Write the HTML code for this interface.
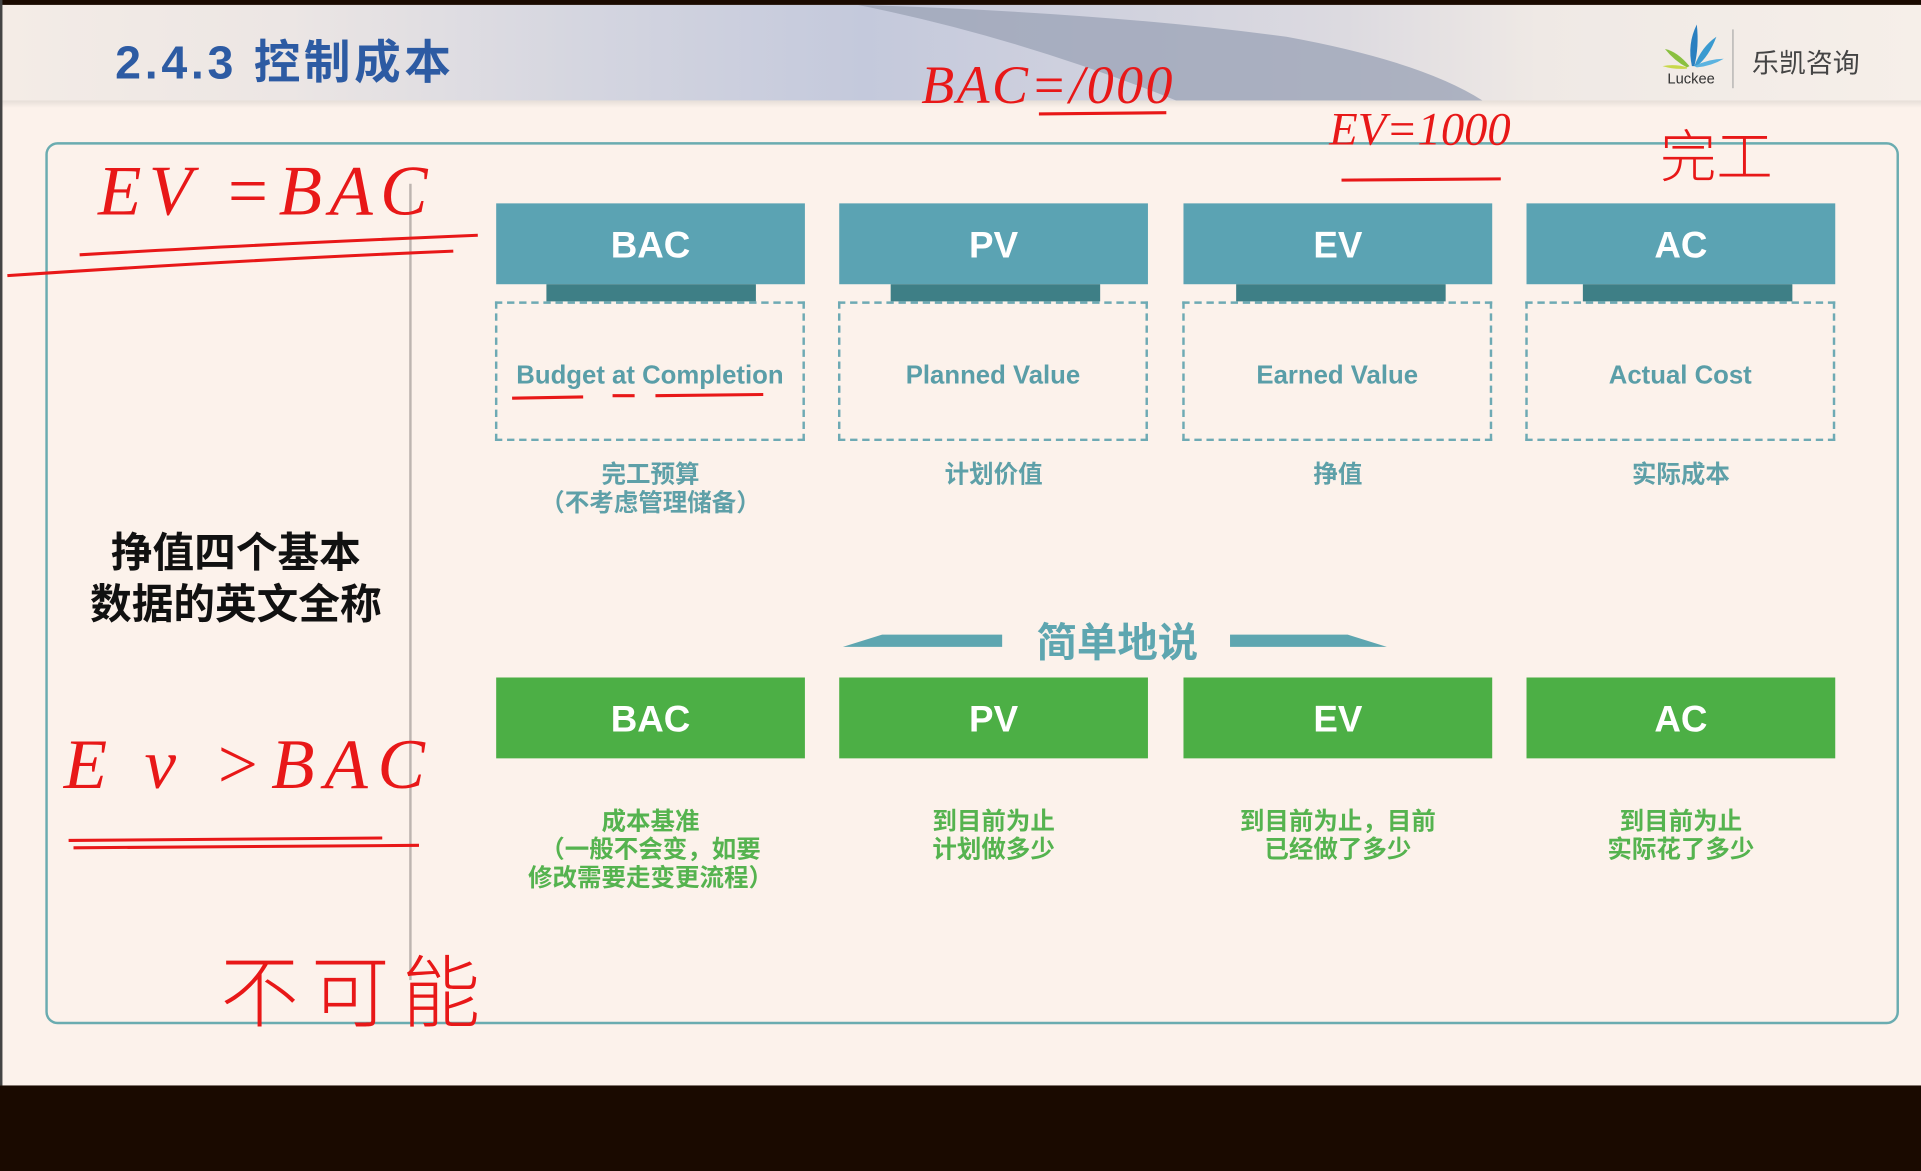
<!DOCTYPE html>
<html><head><meta charset="utf-8"><style>
html,body{margin:0;padding:0;width:1921px;height:1171px;overflow:hidden;background:#1a0a00}
#w{position:absolute;left:0;top:0;width:1568px;height:956px;transform:scale(1.22513);transform-origin:0 0;background:#fcf2eb;font-family:"Liberation Sans","Noto Sans CJK SC",sans-serif;overflow:hidden}
.a{position:absolute}
.tb{position:absolute;height:66px;width:252px;background:#5ba3b3;color:#fff;font-weight:bold;font-size:30px;text-align:center;line-height:70px}
.bar{position:absolute;height:14px;width:171px;background:#3e7f86}
.db{position:absolute;width:249px;height:110px;border:2px dashed #6eaab4;color:#5a9ea8;font-weight:bold;font-size:21px;text-align:center;line-height:118px}
.lb{position:absolute;width:252px;text-align:center;color:#5ea0a8;font-weight:bold;font-size:20px;line-height:23px}
.gb{position:absolute;height:66px;width:252px;background:#4caf45;color:#fff;font-weight:bold;font-size:30px;text-align:center;line-height:70px}
.gl{position:absolute;width:252px;text-align:center;color:#55b34f;font-weight:bold;font-size:20px;line-height:23px}
.r{position:absolute;color:#e81818;font-family:"Liberation Serif",serif;font-style:italic;white-space:nowrap}
</style></head><body><div id="w">
<div class="a" style="left:0;top:4px;width:1568px;height:78px;background:linear-gradient(90deg,#f4ece6 0%,#ece6e4 15%,#d5d6e0 30%,#c4c9dc 45%,#dcdae0 70%,#efe9e5 80%,#f6efe9 100%)"></div>
<svg class="a" style="left:0;top:0" width="1568" height="90"><path d="M700 4 Q900 10 1050 30 Q1160 50 1210 82 L960 82 Q830 30 700 4Z" fill="#9ea5b8" opacity="0.8"/></svg>
<div class="a" style="left:0;top:0;width:1568px;height:4px;background:#1a0a00"></div>
<div class="a" style="left:0;top:82px;width:1568px;height:6px;background:linear-gradient(#e6ded8,#fcf2eb)"></div>
<div class="a" style="left:0;top:0;width:2px;height:886px;background:#444"></div>
<div class="a" style="left:94px;top:20px;color:#2d5ba3;font-weight:bold;font-size:38px;letter-spacing:3px">2.4.3 控制成本</div>
<svg class="a" style="left:1355px;top:18px" width="52" height="40"><path d="M26 36 Q22 18 30 2 Q32 20 28 36Z" fill="#2a7fc0"/><path d="M28 36 Q34 20 46 12 Q40 28 30 36Z" fill="#3a9ad0"/><path d="M28 36 Q40 30 52 30 Q42 36 30 37Z" fill="#5bb3e0"/><path d="M24 36 Q14 24 4 22 Q12 32 22 37Z" fill="#8ac040"/><path d="M22 37 Q12 34 2 36 Q12 39 22 38Z" fill="#c8d84a"/></svg>
<div class="a" style="left:1361px;top:57px;font-size:12px;color:#333">Luckee</div>
<div class="a" style="left:1414px;top:24px;width:1px;height:48px;background:#aaa"></div>
<div class="a" style="left:1430px;top:34px;font-size:22px;color:#444">乐凯咨询</div>
<div class="a" style="left:37px;top:116px;width:1509px;height:716px;border:2px solid #6aacb0;border-radius:10px"></div>
<div class="a" style="left:334px;top:150px;width:2px;height:650px;background:#bdb5b0"></div>
<div class="a" style="left:40px;top:431px;width:305px;text-align:center;font-weight:bold;font-size:34px;line-height:42px;color:#111">挣值四个基本<br>数据的英文全称</div>

<div class="tb" style="left:405px;top:166px">BAC</div><div class="bar" style="left:446px;top:232px"></div>
<div class="tb" style="left:685px;top:166px">PV</div><div class="bar" style="left:727px;top:232px"></div>
<div class="tb" style="left:966px;top:166px">EV</div><div class="bar" style="left:1009px;top:232px"></div>
<div class="tb" style="left:1246px;top:166px">AC</div><div class="bar" style="left:1292px;top:232px"></div>
<div class="db" style="left:404px;top:246px">Budget at Completion</div>
<div class="db" style="left:684px;top:246px">Planned Value</div>
<div class="db" style="left:965px;top:246px">Earned Value</div>
<div class="db" style="left:1245px;top:246px">Actual Cost</div>
<div class="lb" style="left:405px;top:377px">完工预算<br>（不考虑管理储备）</div>
<div class="lb" style="left:685px;top:377px">计划价值</div>
<div class="lb" style="left:966px;top:377px">挣值</div>
<div class="lb" style="left:1246px;top:377px">实际成本</div>

<svg class="a" style="left:680px;top:510px" width="460" height="24"><path d="M8 18 L40 8 L138 8 L138 18Z" fill="#5ea6b0"/><path d="M452 18 L420 8 L324 8 L324 18Z" fill="#5ea6b0"/></svg>
<div class="a" style="left:812px;top:498px;width:200px;text-align:center;color:#5ea6b0;font-weight:bold;font-size:33px">简单地说</div>

<div class="gb" style="left:405px;top:553px">BAC</div>
<div class="gb" style="left:685px;top:553px">PV</div>
<div class="gb" style="left:966px;top:553px">EV</div>
<div class="gb" style="left:1246px;top:553px">AC</div>
<div class="gl" style="left:405px;top:660px">成本基准<br>（一般不会变，如要<br>修改需要走变更流程）</div>
<div class="gl" style="left:685px;top:660px">到目前为止<br>计划做多少</div>
<div class="gl" style="left:966px;top:660px">到目前为止，目前<br>已经做了多少</div>
<div class="gl" style="left:1246px;top:660px">到目前为止<br>实际花了多少</div>

<div class="a" style="left:0;top:886px;width:1568px;height:70px;background:#1a0a00"></div>

<div class="r" style="left:80px;top:122px;font-size:58px;letter-spacing:6px">EV =BAC</div>
<svg class="a" style="left:0;top:0" width="1568" height="956" fill="none" stroke="#e81818" stroke-width="2.5">
<path d="M65 208 Q200 200 390 192"/><path d="M6 225 Q200 212 370 205"/>
<path d="M56 686 L312 684"/><path d="M60 692 L342 690"/>
<path d="M848 93 L952 92"/><path d="M1095 147 L1225 146"/>
<path d="M418 325 L476 324"/><path d="M500 323 L518 323"/><path d="M535 323 L623 322"/>
</svg>
<div class="r" style="left:52px;top:590px;font-size:58px;letter-spacing:8px">E v &gt;BAC</div>
<div class="r" style="left:180px;top:760px;font-size:64px;font-style:normal;font-family:'Noto Sans CJK SC',sans-serif;font-weight:300;letter-spacing:10px">不可能</div>
<div class="r" style="left:752px;top:44px;font-size:44px;letter-spacing:2px">BAC=/000</div>
<div class="r" style="left:1085px;top:84px;font-size:38px">EV=1000</div>
<div class="r" style="left:1355px;top:92px;font-size:46px;font-style:normal;font-family:'Noto Sans CJK SC',sans-serif;font-weight:300">完工</div>
</div></body></html>
